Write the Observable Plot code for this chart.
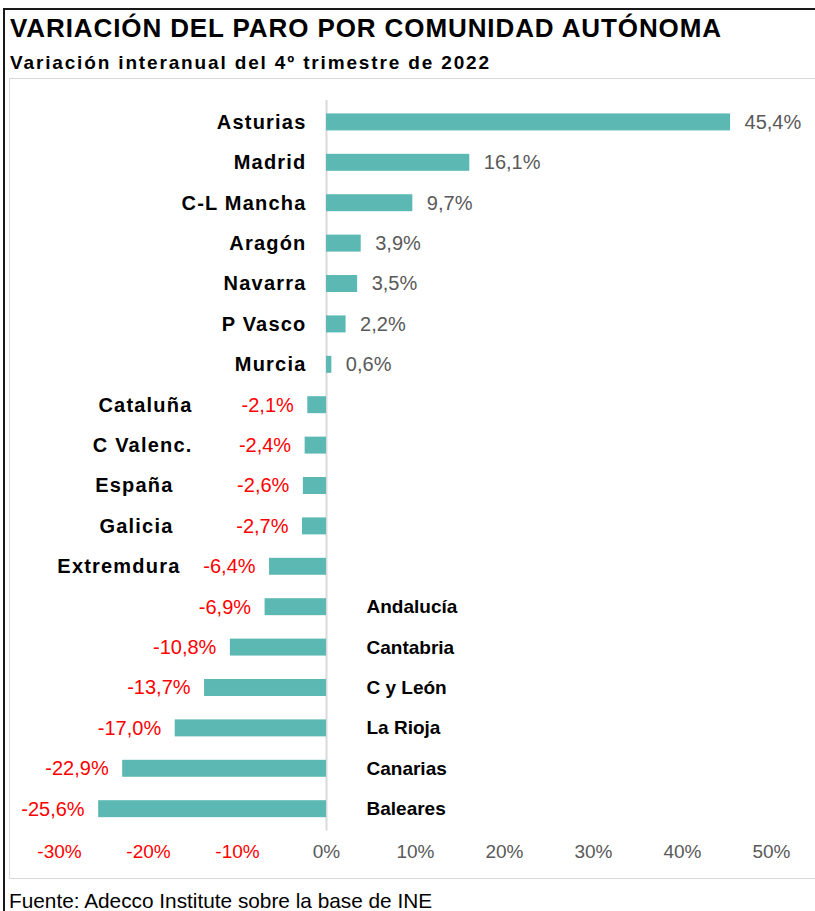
<!DOCTYPE html>
<html>
<head>
<meta charset="utf-8">
<script src="https://cdn.jsdelivr.net/npm/d3@7"></script>
<script src="https://cdn.jsdelivr.net/npm/@observablehq/plot@0.6"></script>
<style>
  html, body { margin: 0; padding: 0; background: #fff; }
  #fig { position: relative; width: 815px; height: 911px; overflow: hidden; font-family: "Liberation Sans", Arial, sans-serif; background: #fff; }
  .outer { position: absolute; left: 3px; top: 8px; width: 900px; height: 1000px; border-left: 2px solid #1a1a1a; border-top: 2px solid #1a1a1a; }
  .title { position: absolute; left: 10px; top: 15px; font-size: 26px; line-height: 1; font-weight: bold; letter-spacing: 0.9px; color: #000; white-space: nowrap; }
  .subtitle { position: absolute; left: 10px; top: 53px; font-size: 19px; line-height: 1; font-weight: bold; letter-spacing: 1.85px; color: #000; white-space: nowrap; }
  .inner { position: absolute; left: 9px; top: 78px; width: 900px; height: 799px; border: 1.5px solid #d9d9d9; }
  #chart { position: absolute; left: 0; top: 78px; }
  .footer { position: absolute; left: 9px; top: 891px; font-size: 20.8px; line-height: 1; color: #000; white-space: nowrap; }
  #chart g[font-weight="bold"] text { letter-spacing: 1.2px; }
</style>
</head>
<body>
<div id="fig">
  <div class="outer"></div>
  <div class="title">VARIACIÓN DEL PARO POR COMUNIDAD AUTÓNOMA</div>
  <div class="subtitle">Variación interanual del 4º trimestre de 2022</div>
  <div class="inner"></div>
  <div id="chart"></div>
  <div class="footer">Fuente: Adecco Institute sobre la base de INE</div>
</div>
<script>
// ---- Data ----
const names = ["Asturias", "Madrid", "C-L Mancha", "Aragón", "Navarra", "P Vasco", "Murcia",
  "Cataluña", "C Valenc.", "España", "Galicia", "Extremdura",
  "Andalucía", "Cantabria", "C y León", "La Rioja", "Canarias", "Baleares"];
const values = [45.4, 16.1, 9.7, 3.9, 3.5, 2.2, 0.6,
  -2.1, -2.4, -2.6, -2.7, -6.4,
  -6.9, -10.8, -13.7, -17.0, -22.9, -25.6];
const xTicks = [-30, -20, -10, 0, 10, 20, 30, 40, 50];

// ---- Layout (label placement) ----
const leftShifted = ["Cataluña", "C Valenc.", "España", "Galicia", "Extremdura"];
const nameDx = {"Cataluña": -134, "C Valenc.": -134, "España": -153, "Galicia": -153, "Extremdura": -146};

const data = names.map((n, i) => ({name: n, value: values[i]}));
const fmt = v => v.toFixed(1).replace(".", ",") + "%";

const TEAL = "#5cb8b2";
const RED = "#ff0000";
const GREY = "#595959";

const posData = data.filter(d => d.value >= 0);
const negData = data.filter(d => d.value < 0);
const rightNames = negData.filter(d => !leftShifted.includes(d.name));
const midNames = negData.filter(d => leftShifted.includes(d.name));

const chart = Plot.plot({
  width: 815,
  height: 800,
  marginLeft: 59,
  marginRight: 44,
  marginTop: 12,
  marginBottom: 37.4,
  x: {domain: [-30, 50], axis: null},
  y: {domain: names, axis: null, padding: 0.58, round: false},
  style: {fontFamily: "'Liberation Sans', Arial, sans-serif", background: "transparent", overflow: "visible"},
  marks: [
    Plot.ruleX([0], {stroke: "#d9d9d9", strokeWidth: 2, insetTop: 10, insetBottom: 10}),
    Plot.barX(data, {x: "value", y: "name", fill: TEAL}),
    Plot.text(posData, {x: "value", y: "name", text: d => fmt(d.value), textAnchor: "start", dx: 14, fill: GREY, fontSize: 20}),
    Plot.text(negData, {x: "value", y: "name", text: d => fmt(d.value), textAnchor: "end", dx: -14, fill: RED, fontSize: 20}),
    Plot.text(posData, {x: d => 0, y: "name", text: "name", textAnchor: "end", dx: -20, fill: "#000", fontSize: 20, fontWeight: "bold"}),
    ...midNames.map(d => Plot.text([d], {x: e => 0, y: "name", text: "name", textAnchor: "end", dx: nameDx[d.name], fill: "#000", fontSize: 20, fontWeight: "bold"})),
    Plot.text(rightNames, {x: d => 0, y: "name", text: "name", textAnchor: "start", dx: 40, fill: "#000", fontSize: 19, fontWeight: 700}),
    Plot.text(xTicks.filter(t => t < 0), {x: d => d, frameAnchor: "bottom", dy: 17, text: d => `${d}%`, fill: RED, fontSize: 19}),
    Plot.text(xTicks.filter(t => t >= 0), {x: d => d, frameAnchor: "bottom", dy: 17, text: d => `${d}%`, fill: GREY, fontSize: 19})
  ]
});
document.getElementById("chart").appendChild(chart);
</script>
</body>
</html>
